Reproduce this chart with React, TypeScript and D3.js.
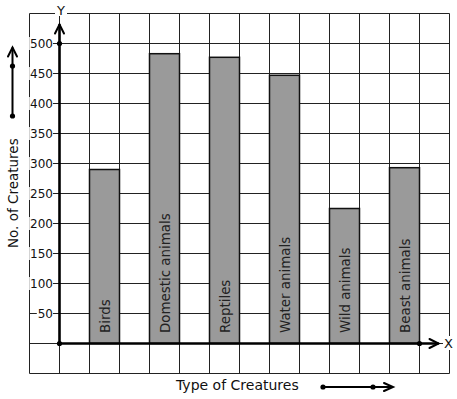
import React from "react";
import * as d3 from "d3";

const categories = ["Birds", "Domestic animals", "Reptiles", "Water animals", "Wild animals", "Beast animals"];
const counts = [290, 483, 477, 447, 225, 293];
const yTicks = [50, 100, 150, 200, 250, 300, 350, 400, 450, 500];
const gridValues = [-50, 0, 50, 100, 150, 200, 250, 300, 350, 400, 450, 500, 550];
const xTitle = "Type of Creatures";
const yTitle = "No. of Creatures";

const W = 457;
const H = 399;
const FONT = "DejaVu Sans, sans-serif";

export default function App() {
  const y = d3.scaleLinear().domain([0, 500]).range([343.5, 43.5]);
  const x = d3
    .scaleBand<string>()
    .domain(categories)
    .range([74.5, 434.5])
    .paddingInner(0.5)
    .paddingOuter(0.25);
  const step = x.step() / 2;
  const originX = (x(categories[0]) as number) - step;
  const gridXs = d3.range(-1, 14).map((i) => originX + i * step);
  const left = gridXs[0];
  const right = gridXs[gridXs.length - 1];
  const top = y(gridValues[gridValues.length - 1]);
  const bottom = y(gridValues[0]);
  const y0 = y(0);
  const dot = 2.6;

  return (
    <svg
      width={W}
      height={H}
      style={{ position: "absolute", left: 0, top: 0, background: "#fff" }}
      fontFamily={FONT}
    >
      <rect x={0} y={0} width={W} height={H} fill="#fff" />
      {/* grid */}
      <g stroke="#222" strokeWidth={1}>
        {gridValues.map((v) => (
          <line key={"h" + v} x1={left} x2={right} y1={y(v)} y2={y(v)} />
        ))}
        {gridXs.map((gx, i) => (
          <line key={"v" + i} x1={gx} x2={gx} y1={top} y2={bottom} />
        ))}
      </g>
      {/* bars */}
      {categories.map((c, i) => (
        <rect
          key={c}
          x={x(c)}
          y={y(counts[i])}
          width={x.bandwidth()}
          height={y0 - y(counts[i])}
          fill="#9a9a9a"
          stroke="#111"
          strokeWidth={1.5}
        />
      ))}
      {/* bar labels */}
      {categories.map((c) => {
        const cx = (x(c) as number) + x.bandwidth() / 2;
        const sy = 333;
        return (
          <text
            key={"l" + c}
            transform={`translate(${cx + 5},${sy}) rotate(-90)`}
            fontSize={13.4}
            fill="#222"
          >
            {c}
          </text>
        );
      })}
      {/* y tick labels with white backgrounds */}
      {yTicks.map((t) => {
        const w = String(t).length * 7.6;
        return (
          <g key={"t" + t}>
            <rect x={53 - w - 1} y={y(t) - 6.5} width={w + 1} height={13} fill="#fff" />
            <text x={53} y={y(t)} dy="0.36em" textAnchor="end" fontSize={12} fill="#111">
              {t}
            </text>
          </g>
        );
      })}
      {/* axes */}
      <g stroke="#000" strokeWidth={2.6} fill="none" strokeLinecap="round">
        <line x1={originX} x2={originX} y1={y0} y2={25} />
        <polyline points={`${originX - 4.5},33.5 ${originX},24.5 ${originX + 4.5},33.5`} strokeWidth={2} />
        <line x1={originX} x2={438} y1={y0} y2={y0} />
        <polyline points={`429.5,${y0 - 4.5} 438.5,${y0} 429.5,${y0 + 4.5}`} strokeWidth={2} />
      </g>
      <circle cx={originX} cy={y0} r={dot} fill="#000" />
      <circle cx={originX} cy={y(500)} r={dot} fill="#000" />
      <circle cx={419.5} cy={y0} r={dot} fill="#000" />
      {/* axis letters */}
      <rect x={55} y={3} width={12} height={13} fill="#fff" />
      <text x={61} y={15} textAnchor="middle" fontSize={13} fill="#111">Y</text>
      <rect x={443} y={336} width={11} height={14} fill="#fff" />
      <text x={448.5} y={y0} dy="0.36em" textAnchor="middle" fontSize={13} fill="#111">X</text>
      {/* titles */}
      <text x={176} y={390} fontSize={14} fill="#111">{xTitle}</text>
      <text transform={`translate(18,248) rotate(-90)`} fontSize={13.5} fill="#111">{yTitle}</text>
      {/* decorative arrows */}
      <g stroke="#000" strokeWidth={2} fill="none" strokeLinecap="round">
        <line x1={12.5} x2={12.5} y1={116} y2={48} />
        <polyline points="8,56.5 12.5,47.5 17,56.5" />
        <line x1={323} x2={392} y1={387} y2={387} />
        <polyline points="384,383 393,387 384,391" />
      </g>
      <circle cx={12.5} cy={66} r={dot} fill="#000" />
      <circle cx={12.5} cy={116} r={dot} fill="#000" />
      <circle cx={323} cy={387} r={dot} fill="#000" />
      <circle cx={373} cy={387} r={dot} fill="#000" />
    </svg>
  );
}
